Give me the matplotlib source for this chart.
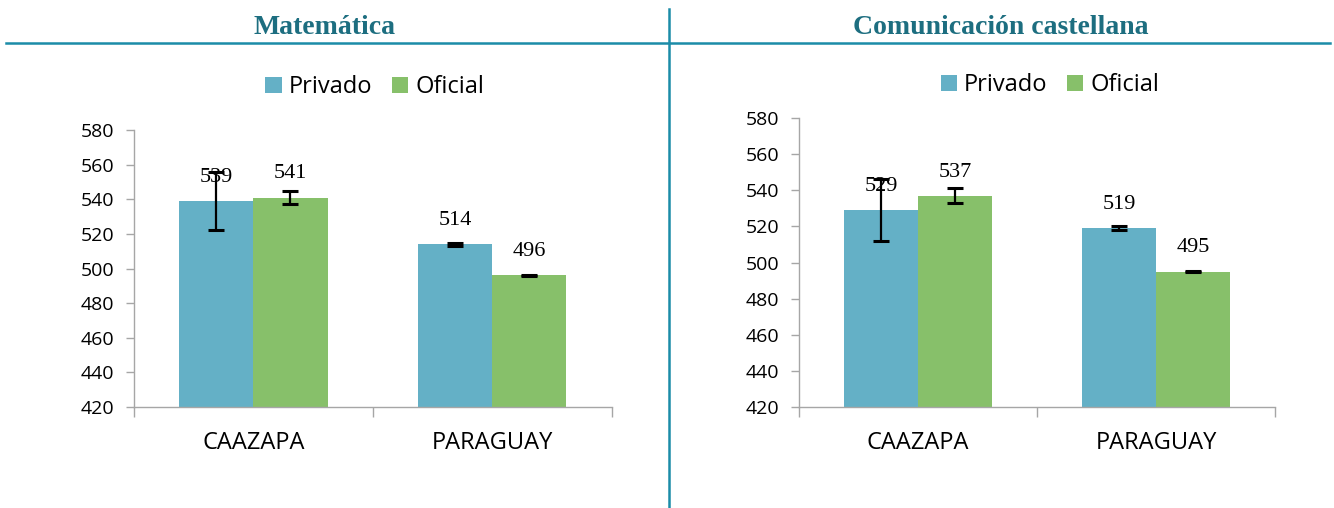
import numpy as np
import matplotlib
matplotlib.use('Agg')
import matplotlib.pyplot as plt
from matplotlib.lines import Line2D
from matplotlib.ticker import FixedLocator

# === Data ===
categories = ['CAAZAPA', 'PARAGUAY']
series = ['Privado', 'Oficial']

mate_privado = [539, 514]
mate_oficial = [541, 496]
mate_privado_err = [17, 1]
mate_oficial_err = [4, 0.5]

com_privado = [529, 519]
com_oficial = [537, 495]
com_privado_err = [17, 1]
com_oficial_err = [4, 0.5]

titles = ['Matemática', 'Comunicación castellana']
yticks = [420, 440, 460, 480, 500, 520, 540, 560, 580]

# === Style ===
c_priv = '#64B0C6'
c_ofic = '#87C06A'
c_line = '#1B8CA8'
c_title = '#1D6E80'
c_axis = '#A6A6A6'
sans = ['Open Sans', 'DejaVu Sans']
serif = ['Liberation Serif', 'DejaVu Serif']

fig = plt.figure(figsize=(13.34, 5.08), dpi=100)


def draw_panel(ax, priv, ofic, priv_err, ofic_err, leg_x, leg_y):
    x = np.arange(len(categories))
    w = 0.31
    ax.bar(x - w / 2, priv, w, color=c_priv, label=series[0], zorder=2)
    ax.bar(x + w / 2, ofic, w, color=c_ofic, label=series[1], zorder=2)
    ekw = dict(fmt='none', ecolor='black', elinewidth=1.6, capsize=6, capthick=2.2, zorder=3)
    ax.errorbar(x - w / 2, priv, yerr=priv_err, **ekw)
    ax.errorbar(x + w / 2, ofic, yerr=ofic_err, **ekw)
    for xi, v in zip(x - w / 2, priv):
        ax.annotate(str(v), (xi, v), xytext=(0, 17), textcoords='offset points',
                    ha='center', va='center', fontsize=16, family=serif)
    for xi, v in zip(x + w / 2, ofic):
        ax.annotate(str(v), (xi, v), xytext=(0, 17), textcoords='offset points',
                    ha='center', va='center', fontsize=16, family=serif)

    ax.set_xlim(-0.5, 1.5)
    ax.set_ylim(420, 580)
    ax.set_yticks(yticks)
    ax.set_yticklabels([str(t) for t in yticks], family=sans, fontsize=14)
    ax.set_xticks(x)
    ax.set_xticklabels(categories, family=sans, fontsize=17)
    ax.xaxis.set_minor_locator(FixedLocator([-0.5, 0.5, 1.5]))
    ax.tick_params(axis='x', which='major', length=0, pad=17)
    ax.tick_params(axis='x', which='minor', length=7, color=c_axis, width=1)
    ax.tick_params(axis='y', length=6, color=c_axis, width=1, pad=8)
    for s in ['top', 'right']:
        ax.spines[s].set_visible(False)
    for s in ['left', 'bottom']:
        ax.spines[s].set_color(c_axis)
        ax.spines[s].set_linewidth(1)

    leg = ax.legend(loc='center', bbox_to_anchor=(leg_x, leg_y), ncol=2, frameon=False,
                    prop={'family': sans, 'size': 17}, handlelength=0.68, handleheight=0.68,
                    handletextpad=0.3, columnspacing=0.85)
    return leg


ax1 = fig.add_axes([0.1004, 0.1988, 0.3583, 0.5453])
draw_panel(ax1, mate_privado, mate_oficial, mate_privado_err, mate_oficial_err, 0.504, 1.155)

ax2 = fig.add_axes([0.599, 0.1988, 0.3568, 0.5689])
draw_panel(ax2, com_privado, com_oficial, com_privado_err, com_oficial_err, 0.527, 1.114)

# === Header titles and divider lines ===
fig.text(325 / 1334, 1 - 27 / 508, titles[0], ha='center', va='center',
         fontsize=20, fontweight='bold', family=serif, color=c_title)
fig.text(1001 / 1334, 1 - 27 / 508, titles[1], ha='center', va='center',
         fontsize=20, fontweight='bold', family=serif, color=c_title)
yl = 1 - 42.5 / 508
fig.add_artist(Line2D([6 / 1334, 1330 / 1334], [yl, yl], color=c_line, lw=1.8))
fig.add_artist(Line2D([669 / 1334, 669 / 1334], [0, 1 - 9 / 508], color=c_line, lw=1.8))

fig.savefig('out.png', dpi=100)
